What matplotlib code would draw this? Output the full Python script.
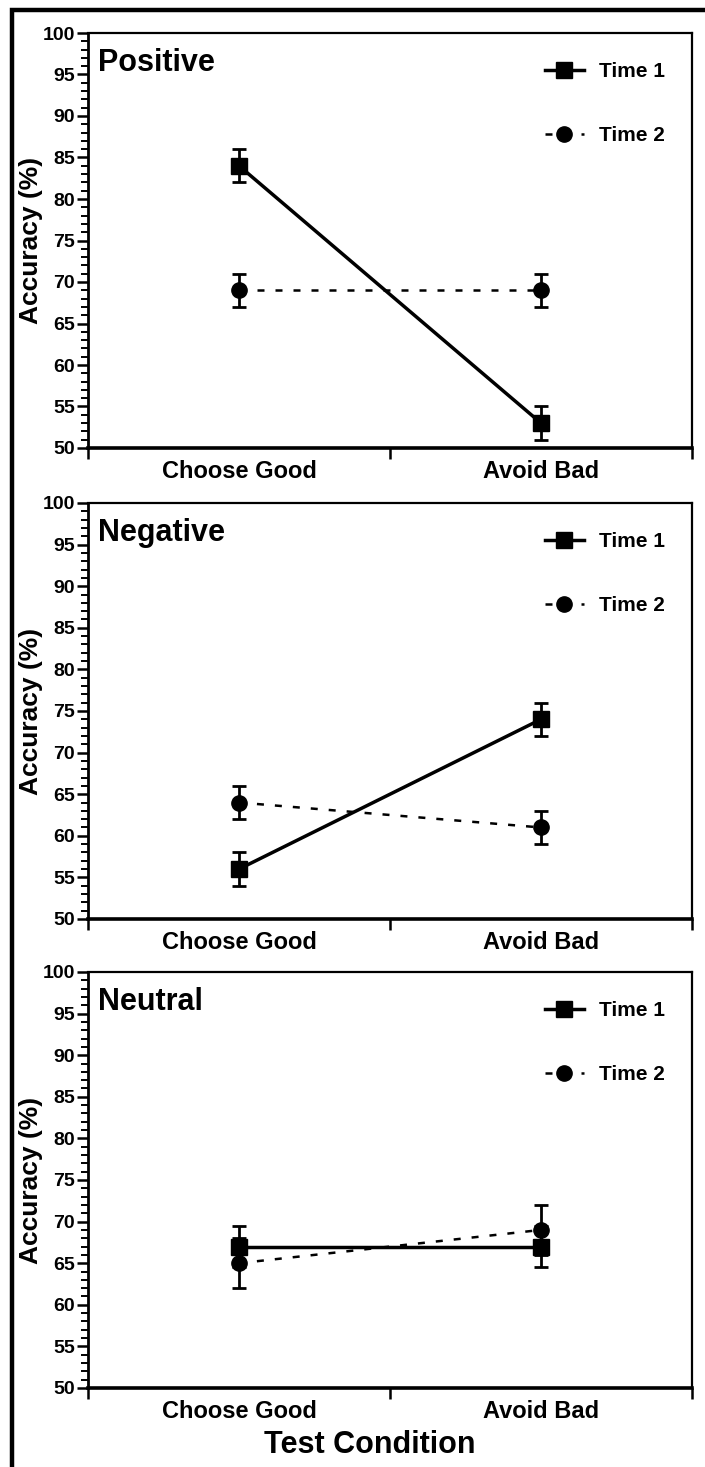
import matplotlib.pyplot as plt
from matplotlib.lines import Line2D
from matplotlib.patches import Rectangle

plt.rcParams["font.family"] = ["Liberation Sans", "DejaVu Sans"]
plt.rcParams["font.weight"] = "bold"

conditions = ["Choose Good", "Avoid Bad"]
panel_names = ["Positive", "Negative", "Neutral"]

time1_mean = [[84, 53], [56, 74], [67, 67]]
time1_err = [[2, 2], [2, 2], [2.5, 2.5]]
time2_mean = [[69, 69], [64, 61], [65, 69]]
time2_err = [[2, 2], [2, 2], [3, 3]]

W, H = 705, 1467
x_pos = [0.5, 1.5]

# panel boxes in pixels: (top, bottom)
panel_px = [(33, 448), (503, 919), (972, 1388)]
left_px, right_px = 88, 692

dash2 = (0, (2.8, 4.4))

fig = plt.figure(figsize=(W / 100, H / 100), dpi=100)

for i, name in enumerate(panel_names):
    top, bot = panel_px[i]
    ax = fig.add_axes([left_px / W, 1 - bot / H, (right_px - left_px) / W, (bot - top) / H])

    ax.errorbar(x_pos, time2_mean[i], yerr=time2_err[i], color="black", marker="o",
                ms=11, lw=1.8, ls=dash2, elinewidth=2, capsize=5, capthick=2, zorder=3)
    ax.errorbar(x_pos, time1_mean[i], yerr=time1_err[i], color="black", marker="s",
                ms=11, lw=2.5, ls="-", elinewidth=2, capsize=5, capthick=2, zorder=4)

    ax.set_xlim(0, 2)
    ax.set_ylim(50, 100)
    ax.set_yticks(range(50, 101, 5))
    ax.set_yticks(range(50, 101, 1), minor=True)
    ax.set_xticks([0, 1, 2])
    ax.set_xticklabels([])
    ax.set_xticks(x_pos, minor=True)
    ax.set_xticklabels(conditions, minor=True)

    ax.tick_params(axis="y", which="major", length=8, width=1.8, pad=1.5, labelsize=14)
    ax.tick_params(axis="y", which="minor", length=5, width=1.4)
    ax.tick_params(axis="x", which="major", length=8, width=1.8)
    ax.tick_params(axis="x", which="minor", length=0, pad=9, labelsize=17)

    ax.spines["left"].set_linewidth(2.0)
    ax.spines["bottom"].set_linewidth(2.6)
    ax.spines["top"].set_linewidth(1.6)
    ax.spines["right"].set_linewidth(1.6)

    ax.set_ylabel("Accuracy (%)", fontsize=19, fontweight="bold")
    ax.yaxis.set_label_coords(-0.075, 0.5)

    ax.text(0.017, 0.908, name, transform=ax.transAxes, fontsize=22,
            fontweight="bold", va="baseline", ha="left")

    handles = [
        Line2D([], [], color="black", marker="s", ms=11, lw=2.5, ls="-"),
        Line2D([], [], color="black", marker="o", ms=11, lw=1.8, ls=dash2),
    ]
    ax.legend(handles, ["Time 1", "Time 2"], loc="upper right",
              bbox_to_anchor=(0.955, 0.93), frameon=False, fontsize=15,
              handlelength=1.9, handletextpad=0.7, labelspacing=2.15,
              borderpad=0, borderaxespad=0)

fig.text(370 / W, 1 - 1445 / H, "Test Condition", fontsize=22, fontweight="bold",
         ha="center", va="center")

# outer frame, cut off at right and bottom
fig.add_artist(Rectangle((12 / W, -0.05), 1.2, 1 - 10 / H + 0.05,
                         transform=fig.transFigure, fill=False, lw=3.2,
                         ec="black", clip_on=False))

fig.savefig("out.png", dpi=100)
plt.close(fig)
